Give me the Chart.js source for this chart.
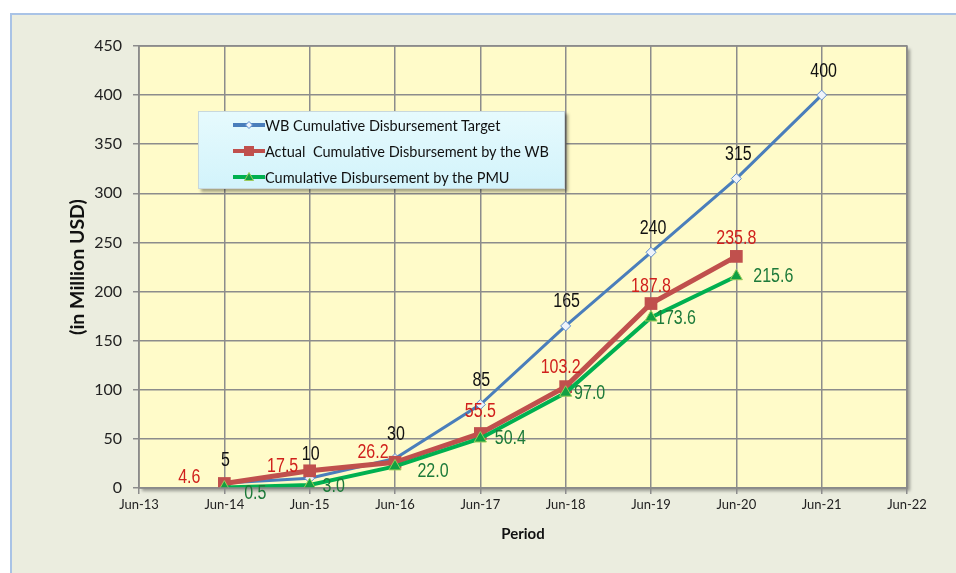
<!DOCTYPE html>
<html>
<head>
<meta charset="utf-8">
<script src="https://cdn.jsdelivr.net/npm/chart.js@4"></script>
<style>
    html, body { margin: 0; padding: 0; background: #fff; }
    #wrap { position: relative; width: 956px; height: 573px; overflow: hidden; }
    #frame {
        position: absolute; left: 10px; top: 13px; width: 960px; height: 580px;
        background: #ebeddf; border: 2px solid #a9c3e6; box-sizing: border-box;
    }
    #chart { position: absolute; left: 0; top: 0; }
    #legend {
        position: absolute; left: 198px; top: 111px; width: 367px; height: 78px;
        background: linear-gradient(#e6fafd, #d2f3fb);
        border: 1px solid #c8d8dc; box-sizing: border-box;
        box-shadow: 3px 3px 3px rgba(0,0,0,0.35);
        font: 14.5px Lato, 'Liberation Sans', sans-serif; color: #111;
    }
    #legend .row { position: absolute; left: 34px; height: 16px; display: flex; align-items: center; white-space: pre; }
</style>
</head>
<body>
<div id="wrap">
    <div id="frame"></div>
    <canvas id="chart" width="956" height="573"></canvas>
    <div id="legend"></div>
</div>
<script>
const periods = ['Jun-13', 'Jun-14', 'Jun-15', 'Jun-16', 'Jun-17', 'Jun-18', 'Jun-19', 'Jun-20', 'Jun-21', 'Jun-22'];

const targetLabel = 'WB Cumulative Disbursement Target';
const targetValues = [null, 5, 10, 30, 85, 165, 240, 315, 400];

const actualLabel = 'Actual  Cumulative Disbursement by the WB';
const actualValues = [null, 4.6, 17.5, 26.2, 55.5, 103.2, 187.8, 235.8];

const pmuLabel = 'Cumulative Disbursement by the PMU';
const pmuValues = [null, 0.5, 3.0, 22.0, 50.4, 97.0, 173.6, 215.6];

const yTicks = [0, 50, 100, 150, 200, 250, 300, 350, 400, 450];

// label offsets from the point (text centre), in px
const targetOffsets = [null, [1, -23], [1, -24], [1, -24], [1, -24], [1, -24], [2, -24], [2, -24], [2, -24]];
const actualOffsets = [null, [-35, -6], [-27, -4], [-22, -10], [0, -22], [-5, -19], [0, -17], [0, -18]];
const pmuOffsets = [null, [31, 6], [24, 1], [38, 5], [30, 0], [24, 1], [25, 1], [37, 0]];

const toPoints = values => values.map((v, i) => v === null ? null : {x: i, y: v}).filter(p => p);

const plotArea = {
    id: 'plotArea',
    beforeDraw(chart) {
        const {ctx, chartArea: a} = chart;
        ctx.save();
        ctx.shadowColor = 'rgba(0,0,0,0.35)';
        ctx.shadowBlur = 3;
        ctx.shadowOffsetX = 3;
        ctx.shadowOffsetY = 3;
        ctx.fillStyle = '#fffbc9';
        ctx.fillRect(a.left, a.top, a.right - a.left, a.bottom - a.top);
        ctx.restore();
    },
    afterDatasetsDraw(chart) {
        const {ctx, chartArea: a} = chart;
        ctx.save();
        ctx.strokeStyle = '#8a8a8a';
        ctx.lineWidth = 1.5;
        ctx.strokeRect(a.left, a.top, a.right - a.left, a.bottom - a.top);
        ctx.restore();
    }
};

const valueLabels = {
    id: 'valueLabels',
    afterDatasetsDraw(chart) {
        const {ctx} = chart;
        chart.data.datasets.forEach((ds, di) => {
            const meta = chart.getDatasetMeta(di);
            meta.data.forEach((pt, i) => {
                const raw = ds.data[i];
                const off = ds.labelOffsets[raw.x];
                const text = ds.labelFixed ? raw.y.toFixed(1) : String(raw.y);
                ctx.save();
                ctx.translate(pt.x + off[0], pt.y + off[1]);
                ctx.scale(0.8, 1);
                ctx.font = '20px "Liberation Sans", Arial, sans-serif';
                ctx.fillStyle = ds.labelColor;
                ctx.textAlign = 'center';
                ctx.textBaseline = 'middle';
                ctx.fillText(text, 0, 0);
                ctx.restore();
            });
        });
    }
};

new Chart(document.getElementById('chart'), {
    type: 'line',
    data: {
        datasets: [
            {
                label: pmuLabel,
                data: toPoints(pmuValues),
                borderColor: '#00b050',
                borderWidth: 4,
                pointStyle: 'triangle',
                pointRadius: 7,
                pointBackgroundColor: '#11a043',
                pointBorderColor: '#9bcb5a',
                pointBorderWidth: 1,
                labelColor: '#1d7a3a',
                labelOffsets: pmuOffsets,
                labelFixed: true,
            },
            {
                label: actualLabel,
                data: toPoints(actualValues),
                borderColor: '#c0504d',
                borderWidth: 5,
                pointStyle: 'rect',
                pointRadius: 9,
                pointBackgroundColor: '#c0504d',
                pointBorderColor: '#c0504d',
                pointBorderWidth: 0,
                labelColor: '#d0201c',
                labelOffsets: actualOffsets,
                labelFixed: true,
            },
            {
                label: targetLabel,
                data: toPoints(targetValues),
                borderColor: '#4a7ebb',
                borderWidth: 3,
                pointStyle: 'rectRot',
                pointRadius: 5,
                pointBackgroundColor: '#eef3fa',
                pointBorderColor: '#5b8cd0',
                pointBorderWidth: 1,
                labelColor: '#111',
                labelOffsets: targetOffsets,
                labelFixed: false,
            }
        ]
    },
    options: {
        responsive: false,
        animation: false,
        layout: {padding: {left: 64, top: 46, right: 49, bottom: 30}},
        plugins: {
            legend: {display: false},
            tooltip: {enabled: false}
        },
        scales: {
            x: {
                type: 'linear',
                min: 0,
                max: periods.length - 1,
                afterFit: scale => { scale.height = 55; },
                afterBuildTicks: scale => { scale.ticks = periods.map((p, i) => ({value: i})); },
                ticks: {
                    callback: v => periods[v],
                    color: '#222',
                    font: {family: 'Lato, "Liberation Sans", sans-serif', size: 13},
                    padding: 3,
                    maxRotation: 0,
                    autoSkip: false,
                },
                grid: {color: '#8c8c8c', lineWidth: 1.5, tickLength: 6},
                border: {display: false},
                title: {
                    display: true,
                    text: 'Period',
                    color: '#111',
                    font: {family: 'Lato, "Liberation Sans", sans-serif', size: 15, weight: 'bold'},
                    padding: {top: 4, bottom: 0},
                }
            },
            y: {
                min: 0,
                max: 450,
                afterFit: scale => { scale.width = 75; },
                afterBuildTicks: scale => { scale.ticks = yTicks.map(v => ({value: v})); },
                ticks: {
                    color: '#222',
                    font: {family: 'Lato, "Liberation Sans", sans-serif', size: 16},
                    padding: 11,
                },
                grid: {color: '#8c8c8c', lineWidth: 1.5, tickLength: 6},
                border: {display: false},
                title: {
                    display: true,
                    text: '(in Million USD)',
                    color: '#111',
                    font: {family: 'Lato, "Liberation Sans", sans-serif', size: 19.5, weight: 'bold'},
                    padding: {top: 2, bottom: 0},
                }
            }
        }
    },
    plugins: [plotArea, valueLabels]
});

// legend box
const legendRows = [
    {text: targetLabel, color: '#4a7ebb', marker: '<path d="M16 4.5 L19.5 8 L16 11.5 L12.5 8 Z" fill="#eef3fa" stroke="#5b8cd0" stroke-width="1"/>'},
    {text: actualLabel, color: '#c0504d', marker: '<rect x="11" y="3" width="10" height="10" fill="#c0504d"/>'},
    {text: pmuLabel, color: '#00b050', marker: '<path d="M16 3.5 L20.5 11.5 L11.5 11.5 Z" fill="#11a043" stroke="#9bcb5a" stroke-width="1"/>'},
];
const legend = document.getElementById('legend');
legendRows.forEach((r, i) => {
    const row = document.createElement('div');
    row.className = 'row';
    row.style.top = (5 + i * 26) + 'px';
    row.innerHTML = `<svg width="32" height="16"><line x1="0" y1="8" x2="32" y2="8" stroke="${r.color}" stroke-width="4"/>${r.marker}</svg><span>${r.text}</span>`;
    legend.appendChild(row);
});
</script>
</body>
</html>
